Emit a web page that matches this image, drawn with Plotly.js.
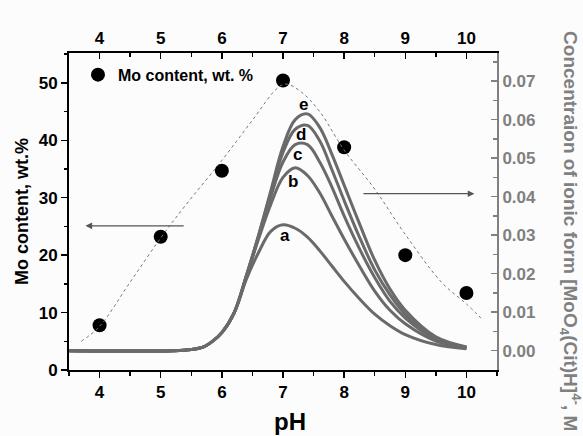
<!DOCTYPE html>
<html>
<head>
<meta charset="utf-8">
<script src="https://cdn.plot.ly/plotly-3.0.1.min.js"></script>
<style>html,body{margin:0;padding:0;background:#fcfcfc;}#chart{width:583px;height:436px;}</style>
</head>
<body>
<div id="chart"></div>
<script>
// Mo content points (left axis)
const phPoints = [4, 5, 6, 7, 8, 9, 10];
const moContent = [7.8, 23.2, 34.7, 50.4, 38.8, 20.0, 13.4];

// dashed guide curve through Mo content (left axis)
const fitPh = [3.7, 4.0, 4.5, 5.0, 5.4, 6.0, 6.5, 6.9, 7.05, 7.3, 7.6, 8.0, 8.5, 9.0, 9.6, 10.0, 10.27];
const fitMo = [5.0, 7.6, 15.3, 23.0, 28.6, 36.5, 43.5, 49.0, 49.8, 48.4, 45.0, 38.3, 31.5, 23.6, 15.2, 11.5, 8.7];

// concentration curves (right axis)
const curvePh = [3.5, 5.2, 5.5, 5.7, 5.85, 6.0, 6.2, 6.4, 6.6, 6.8, 7.0, 7.2, 7.4, 7.6, 7.8, 8.0, 8.25, 8.5, 8.75, 9.0, 9.5, 10.0];
const curveA = [0, 0, 0.0003, 0.001, 0.0025, 0.0047, 0.0098, 0.0185, 0.0255, 0.031, 0.0327, 0.0318, 0.0295, 0.026, 0.022, 0.018, 0.0135, 0.0095, 0.0065, 0.0042, 0.0016, 0.0005];
const curveB = [0, 0, 0.0003, 0.001, 0.0025, 0.0047, 0.0098, 0.0192, 0.029, 0.038, 0.045, 0.0475, 0.0455, 0.041, 0.035, 0.029, 0.022, 0.0155, 0.0105, 0.007, 0.0025, 0.0007];
const curveC = [0, 0, 0.0003, 0.001, 0.0025, 0.0047, 0.0098, 0.0193, 0.0295, 0.040, 0.049, 0.0535, 0.0535, 0.049, 0.0425, 0.035, 0.0265, 0.019, 0.0128, 0.0085, 0.003, 0.0008];
const curveD = [0, 0, 0.0003, 0.001, 0.0025, 0.0047, 0.0098, 0.0194, 0.0298, 0.041, 0.0515, 0.0575, 0.0585, 0.0545, 0.047, 0.039, 0.0295, 0.021, 0.0145, 0.0095, 0.0033, 0.0009];
const curveE = [0, 0, 0.0003, 0.001, 0.0025, 0.0047, 0.0098, 0.0195, 0.030, 0.0415, 0.053, 0.060, 0.0615, 0.058, 0.051, 0.043, 0.033, 0.0235, 0.016, 0.0105, 0.0036, 0.001];
const curveNames = ['a', 'b', 'c', 'd', 'e'];
const labelPh = [7.03, 7.16, 7.23, 7.29, 7.34];
const labelVal = [0.0299, 0.0439, 0.0509, 0.0561, 0.0639];

const xTicks = [4, 5, 6, 7, 8, 9, 10];

const FONT = 'Liberation Sans, Arial, sans-serif';
const GREY = '#808080';
const CURVE = '#6a6a6a';

const traces = [];
[curveA, curveB, curveC, curveD, curveE].forEach((c, i) => {
  traces.push({
    x: curvePh, y: c, xaxis: 'x', yaxis: 'y2', type: 'scatter', mode: 'lines',
    line: {color: CURVE, width: 3, shape: 'spline', smoothing: 1},
    showlegend: false, hoverinfo: 'skip', name: curveNames[i]
  });
});
traces.push({
  x: fitPh, y: fitMo, xaxis: 'x2', yaxis: 'y', type: 'scatter', mode: 'lines',
  line: {color: '#777', width: 1, dash: '3px,3px', shape: 'spline', smoothing: 1},
  showlegend: false, hoverinfo: 'skip'
});
traces.push({
  x: phPoints, y: moContent, xaxis: 'x', yaxis: 'y', type: 'scatter', mode: 'markers',
  marker: {color: '#000', size: 14},
  name: 'Mo content, wt. %', showlegend: true
});

const tickFont = {family: FONT, size: 17, color: '#000', weight: 'bold'};

const annotations = [];
curveNames.forEach((n, i) => {
  annotations.push({
    x: labelPh[i], y: labelVal[i], xref: 'x', yref: 'y2', text: n,
    showarrow: false, xanchor: 'center', yanchor: 'middle',
    font: {family: FONT, size: 17, color: '#000', weight: 'bold'}
  });
});
annotations.push({x: 3.77, y: 25.1, ax: 5.40, ay: 25.1, xref: 'x', yref: 'y', axref: 'x', ayref: 'y',
  text: '', showarrow: true, arrowhead: 2, arrowsize: 1.1, arrowwidth: 1.2, arrowcolor: '#555'});
annotations.push({x: 10.13, y: 30.7, ax: 8.29, ay: 30.7, xref: 'x', yref: 'y', axref: 'x', ayref: 'y',
  text: '', showarrow: true, arrowhead: 2, arrowsize: 1.1, arrowwidth: 1.2, arrowcolor: '#555'});
annotations.push({x: 0.516, y: -0.164, xref: 'paper', yref: 'paper', text: 'pH', showarrow: false,
  xanchor: 'center', yanchor: 'middle', font: {family: FONT, size: 24, color: '#000', weight: 'bold'}});
annotations.push({x: 1.173, y: 0.438, xref: 'paper', yref: 'paper', textangle: 90,
  text: 'Concentraion of ionic form [MoO<sub>4</sub>(Cit)H]<sup>4-</sup>, M', showarrow: false,
  xanchor: 'center', yanchor: 'middle', font: {family: FONT, size: 19, color: GREY, weight: 'bold'}});

const layout = {
  width: 583, height: 436,
  margin: {l: 69, r: 86, t: 53, b: 66, pad: 0},
  paper_bgcolor: '#fcfcfc', plot_bgcolor: '#fcfcfc',
  showlegend: true,
  legend: {x: 0.021, y: 0.985, xanchor: 'left', yanchor: 'top', bgcolor: 'rgba(0,0,0,0)',
    font: {family: FONT, size: 16, color: '#000', weight: 'bold'}},
  xaxis: {range: [3.5, 10.5], tickvals: xTicks, ticktext: xTicks.map(String), ticks: 'outside', ticklen: 6, tickwidth: 1.5,
    tickcolor: '#000', showline: true, linecolor: '#000', linewidth: 2, showgrid: false, zeroline: false,
    tickfont: tickFont, minor: {dtick: 0.5, tick0: 3.5, ticks: 'outside', ticklen: 4, tickwidth: 1.5, tickcolor: '#000', showgrid: false}},
  xaxis2: {range: [3.5, 10.5], overlaying: 'x', side: 'top', anchor: 'y', tickvals: xTicks, ticktext: xTicks.map(String),
    ticks: 'inside', ticklen: 6, tickwidth: 1.5, tickcolor: '#000', showline: true, linecolor: '#000', linewidth: 2,
    showgrid: false, zeroline: false, tickfont: tickFont,
    minor: {dtick: 0.5, tick0: 3.5, ticks: 'inside', ticklen: 4, tickwidth: 1.5, tickcolor: '#000', showgrid: false}},
  yaxis: {range: [0, 55.2], dtick: 10, tick0: 0, ticks: 'outside', ticklen: 6, tickwidth: 1.5, tickcolor: '#000',
    showline: true, linecolor: '#000', linewidth: 2, showgrid: false, zeroline: false, tickfont: tickFont,
    minor: {dtick: 5, ticks: 'outside', ticklen: 3, tickwidth: 1.5, tickcolor: '#000', showgrid: false},
    title: {text: 'Mo content, wt.%', standoff: 5, font: {family: FONT, size: 18, color: '#000', weight: 'bold'}}},
  yaxis2: {range: [-0.005, 0.0773], overlaying: 'y', side: 'right', anchor: 'x', dtick: 0.01, tick0: 0, tickformat: '.2f',
    ticks: 'inside', ticklen: 6, tickwidth: 1.5, tickcolor: GREY, showline: true, linecolor: GREY, linewidth: 2,
    showgrid: false, zeroline: false, tickfont: {family: FONT, size: 17, color: GREY, weight: 'bold'},
    minor: {dtick: 0.005, ticks: 'inside', ticklen: 4, tickwidth: 1.5, tickcolor: GREY, showgrid: false}},
  annotations: annotations
};

Plotly.newPlot('chart', traces, layout, {displayModeBar: false, staticPlot: true});
</script>
</body>
</html>
